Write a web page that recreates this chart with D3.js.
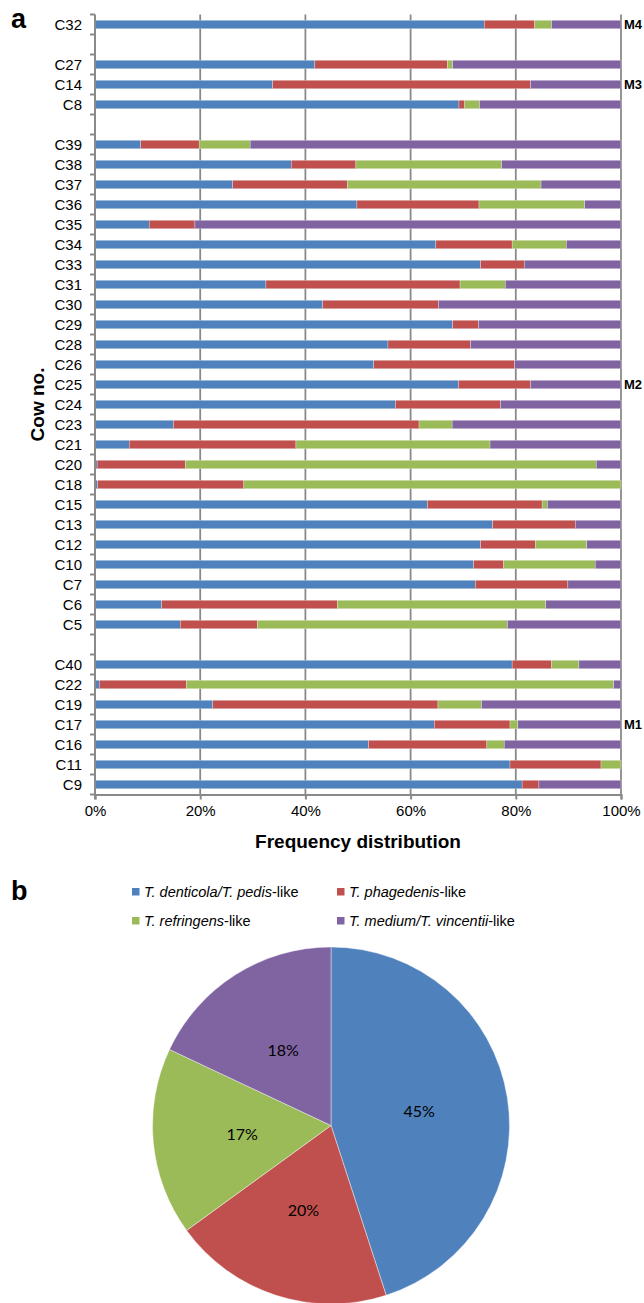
<!DOCTYPE html>
<html>
<head>
<meta charset="utf-8">
<script src="https://cdn.jsdelivr.net/npm/d3@7"></script>
<style>
  body { margin: 0; background: #fff; }
  svg { display: block; font-family: "Liberation Sans", Arial, sans-serif; }
</style>
</head>
<body>
<div id="main"></div>
<script>
// rows top to bottom, null = empty slot between groups
const cows = ["C32", null, "C27", "C14", "C8", null,
  "C39", "C38", "C37", "C36", "C35", "C34", "C33", "C31", "C30", "C29", "C28", "C26", "C25",
  "C24", "C23", "C21", "C20", "C18", "C15", "C13", "C12", "C10", "C7", "C6", "C5", null,
  "C40", "C22", "C19", "C17", "C16", "C11", "C9"];

const denticola = [74.0, null, 41.8, 33.8, 69.2, null,
  8.7, 37.3, 26.2, 49.8, 10.3, 64.8, 73.3, 32.5, 43.3, 68.0, 55.7, 53.0, 69.1,
  57.1, 14.9, 6.5, 0.4, 0.5, 63.2, 75.6, 73.3, 72.0, 72.3, 12.7, 16.2, null,
  79.3, 0.8, 22.4, 64.5, 52.0, 78.9, 81.2];
const phagedenis = [9.6, null, 25.2, 49.0, 1.1, null,
  11.1, 12.3, 21.8, 23.2, 8.7, 14.5, 8.3, 36.9, 22.0, 4.9, 15.7, 26.8, 13.7,
  20.0, 46.7, 31.7, 16.8, 27.8, 21.8, 15.7, 10.4, 5.7, 17.6, 33.4, 14.7, null,
  7.5, 16.6, 42.8, 14.4, 22.5, 17.3, 3.2];
const refringens = [3.2, null, 1.0, 0, 2.8, null,
  9.7, 27.7, 36.8, 20.1, 0, 10.3, 0, 8.6, 0, 0, 0, 0, 0,
  0, 6.3, 36.9, 78.1, 71.7, 1.0, 0, 9.8, 17.4, 0, 39.6, 47.5, null,
  5.2, 81.2, 8.3, 1.5, 3.3, 3.8, 0];
const medium = [13.2, null, 32.0, 17.2, 26.9, null,
  70.5, 22.7, 15.2, 6.9, 81.0, 10.4, 18.4, 22.0, 34.7, 27.1, 28.6, 20.2, 17.2,
  22.9, 32.1, 24.9, 4.7, 0, 14.0, 8.7, 6.5, 4.9, 10.1, 14.3, 21.6, null,
  8.0, 1.4, 26.5, 19.6, 22.2, 0, 15.6];

const groups = [["M4", "C32"], ["M3", "C14"], ["M2", "C25"], ["M1", "C17"]];
const xTicks = [0, 20, 40, 60, 80, 100];

const seriesKeys = ["denticola", "phagedenis", "refringens", "medium"];
const seriesColors = ["#4F81BD", "#C0504D", "#9BBB59", "#8064A2"];
const legendLabels = [
  ["T. denticola/T. pedis", "-like"],
  ["T. phagedenis", "-like"],
  ["T. refringens", "-like"],
  ["T. medium/T. vincentii", "-like"]
];
const pieValues = [45, 20, 17, 18];

const width = 644;
const height = 1303;
const grey = "#898989";

const svg = d3.select("#main").append("svg")
  .attr("width", width).attr("height", height);

// ---- panel a: stacked bars ----
const x = d3.scaleLinear().domain([0, 100]).range([95, 621]);
const y = d3.scaleBand().domain(d3.range(cows.length)).range([14.5, 794.5]).paddingInner(0.575).paddingOuter(0.2875);
const slot = d3.scaleLinear().domain([0, cows.length]).range([14.5, 794.5]);

const rows = cows.map((c, i) => ({
  i, cow: c,
  denticola: denticola[i] || 0, phagedenis: phagedenis[i] || 0,
  refringens: refringens[i] || 0, medium: medium[i] || 0
})).filter(d => d.cow);

// gridlines
svg.append("g").selectAll("line").data(xTicks.slice(1)).join("line")
  .attr("x1", d => x(d)).attr("x2", d => x(d))
  .attr("y1", 14.5).attr("y2", 794.5)
  .attr("stroke", grey).attr("stroke-width", 1.8);

const stack = d3.stack().keys(seriesKeys)(rows);
svg.append("g").selectAll("g").data(stack).join("g")
  .attr("fill", (d, i) => seriesColors[i])
  .selectAll("rect").data(d => d).join("rect")
  .attr("x", d => x(d[0]))
  .attr("width", d => Math.max(0, x(d[1]) - x(d[0])))
  .attr("y", d => y(d.data.i))
  .attr("height", y.bandwidth())
  .attr("stroke", "#fff").attr("stroke-width", 0.4).attr("stroke-opacity", 0.7);

// left axis with ticks at slot boundaries
const yAxis = svg.append("g");
yAxis.append("line").attr("x1", 95).attr("x2", 95).attr("y1", 14.5).attr("y2", 799)
  .attr("stroke", grey).attr("stroke-width", 2);
yAxis.selectAll("line.tk").data(d3.range(cows.length + 1)).join("line").attr("class", "tk")
  .attr("x1", 90).attr("x2", 95).attr("y1", d => slot(d)).attr("y2", d => slot(d))
  .attr("stroke", grey).attr("stroke-width", 2);
yAxis.selectAll("text").data(rows).join("text")
  .attr("x", 82).attr("y", d => y(d.i) + y.bandwidth() / 2)
  .attr("dy", "0.36em").attr("text-anchor", "end")
  .attr("font-size", 15).attr("fill", "#000")
  .text(d => d.cow);

// bottom axis
const xAxis = svg.append("g").attr("transform", "translate(0,794.5)")
  .call(d3.axisBottom(x).tickValues(xTicks).tickSize(5).tickPadding(6).tickFormat(d => d + "%"));
xAxis.select(".domain").attr("stroke", grey).attr("stroke-width", 2);
xAxis.selectAll(".tick line").attr("stroke", grey).attr("stroke-width", 2);
xAxis.selectAll(".tick text").attr("font-size", 15).attr("fill", "#000")
  .attr("font-family", "'Liberation Sans', Arial, sans-serif");

svg.append("text").attr("x", 358).attr("y", 848).attr("text-anchor", "middle")
  .attr("font-size", 19).attr("font-weight", "bold").text("Frequency distribution");

svg.append("text").attr("transform", "translate(44,404.5) rotate(-90)")
  .attr("text-anchor", "middle").attr("font-size", 19).attr("font-weight", "bold")
  .text("Cow no.");

// group labels on the right
svg.append("g").selectAll("text").data(groups).join("text")
  .attr("x", 624).attr("y", d => y(cows.indexOf(d[1])) + y.bandwidth() / 2)
  .attr("dy", "0.36em").attr("font-size", 13).attr("font-weight", "bold")
  .text(d => d[0]);

svg.append("text").attr("x", 11).attr("y", 28).attr("font-size", 27).attr("font-weight", "bold").text("a");
svg.append("text").attr("x", 11).attr("y", 900).attr("font-size", 27).attr("font-weight", "bold").text("b");

// ---- panel b: legend ----
const legendPos = [[132, 892], [337, 892], [132, 921], [337, 921]];
const legend = svg.append("g").selectAll("g").data(legendLabels).join("g")
  .attr("transform", (d, i) => `translate(${legendPos[i][0]},${legendPos[i][1]})`);
legend.append("rect").attr("x", 0).attr("y", -4).attr("width", 7.5).attr("height", 7.5)
  .attr("fill", (d, i) => seriesColors[i]);
const lt = legend.append("text").attr("x", 12).attr("y", 5).attr("font-size", 14.5).attr("fill", "#000");
lt.append("tspan").attr("font-style", "italic").text(d => d[0]);
lt.append("tspan").text(d => d[1]);

// ---- panel b: pie ----
const r = 178.5;
const pie = d3.pie().sort(null)(pieValues);
const arc = d3.arc().innerRadius(0).outerRadius(r);
const pg = svg.append("g").attr("transform", "translate(331,1125.5)");
pg.selectAll("path").data(pie).join("path")
  .attr("d", arc).attr("fill", (d, i) => seriesColors[i])
  .attr("stroke", "#fff").attr("stroke-width", 0.6).attr("stroke-opacity", 0.7);
pg.selectAll("text").data(pie).join("text")
  .attr("transform", d => `translate(${arc.centroid(d)})`)
  .attr("text-anchor", "middle").attr("dy", "0.36em")
  .attr("font-family", "Lato, 'Open Sans', sans-serif").attr("font-size", 16).attr("fill", "#000")
  .text(d => d.data + "%");
</script>
</body>
</html>
